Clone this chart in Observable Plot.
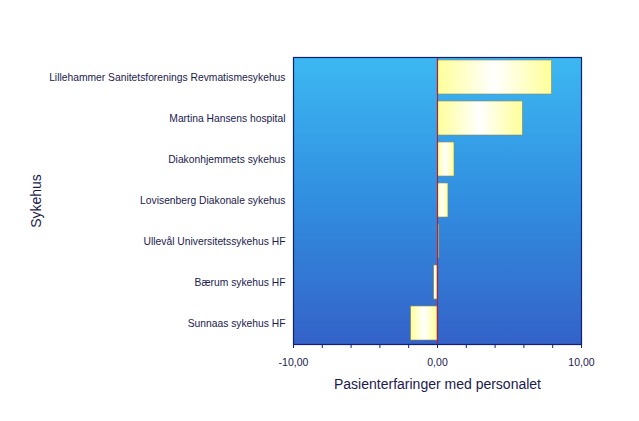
<!DOCTYPE html>
<html><head><meta charset="utf-8">
<script src="https://cdn.jsdelivr.net/npm/d3@7"></script>
<script src="https://cdn.jsdelivr.net/npm/@observablehq/plot@0.6"></script>
<style>body{margin:0;background:#fff}</style>
</head><body><div id="chart"></div>
<script>
const hospitals = [
  "Lillehammer Sanitetsforenings Revmatismesykehus",
  "Martina Hansens hospital",
  "Diakonhjemmets sykehus",
  "Lovisenberg Diakonale sykehus",
  "Ullevål Universitetssykehus HF",
  "Bærum sykehus HF",
  "Sunnaas sykehus HF"
];
const values = [7.95, 5.93, 1.18, 0.76, 0.12, -0.23, -1.83];
const xTicks = [-10, -8, -6, -4, -2, 0, 2, 4, 6, 8, 10];
const xLabelTicks = [-10, 0, 10];

const data = hospitals.map((h, i) => ({hospital: h, value: values[i]}));
const fmt = d => d.toFixed(2).replace(".", ",");
const ink = "#1a1a4e";

const plot = Plot.plot({
  width: 639, height: 421,
  marginLeft: 293, marginRight: 58, marginTop: 57, marginBottom: 77,
  style: {fontFamily: "Liberation Sans, Arial, sans-serif", fontSize: "10.3px", color: ink, background: "#fff"},
  x: {domain: [-10, 10]},
  y: {domain: hospitals, paddingInner: 0.16, paddingOuter: 0.04},
  marks: [
    Plot.frame({fill: "url(#bgGrad)", stroke: "none"}),
    Plot.barX(data, {x: "value", y: "hospital", fill: "url(#barGrad)", stroke: "#8a8a55", strokeWidth: 0.6}),
    Plot.ruleX([0], {stroke: "#b01e40", strokeWidth: 1.2}),
    Plot.frame({stroke: "#10207a", strokeWidth: 1.2}),
    Plot.axisY({tickSize: 0, tickPadding: 8, label: "Sykehus", labelAnchor: "center", labelOffset: 262, labelArrow: "none", fontSize: 10.3}),
    Plot.axisX({ticks: xTicks, tickSize: 4, tickFormat: () => "", label: null, stroke: "#10207a"}),
    Plot.axisX({ticks: xLabelTicks, tickSize: 0, tickPadding: 14, tickFormat: fmt, fontSize: 10.5, label: "Pasienterfaringer med personalet", labelAnchor: "center", labelOffset: 44, labelArrow: "none"})
  ]
});

const svg = d3.select(plot);
const defs = svg.insert("defs", ":first-child");
const bg = defs.append("linearGradient").attr("id", "bgGrad").attr("x1", 0).attr("y1", 0).attr("x2", 0).attr("y2", 1);
bg.append("stop").attr("offset", "0%").attr("stop-color", "#3cb8f2");
bg.append("stop").attr("offset", "50%").attr("stop-color", "#318ee0");
bg.append("stop").attr("offset", "100%").attr("stop-color", "#3462c8");
const bar = defs.append("linearGradient").attr("id", "barGrad").attr("x1", 0).attr("y1", 0).attr("x2", 1).attr("y2", 0);
bar.append("stop").attr("offset", "0%").attr("stop-color", "#ffff98");
bar.append("stop").attr("offset", "50%").attr("stop-color", "#ffffff");
bar.append("stop").attr("offset", "100%").attr("stop-color", "#ffff98");

svg.selectAll("[aria-label='y-axis label'] text, [aria-label='x-axis label'] text").style("font-size", "14px");

document.getElementById("chart").append(plot);
</script>
</body></html>
